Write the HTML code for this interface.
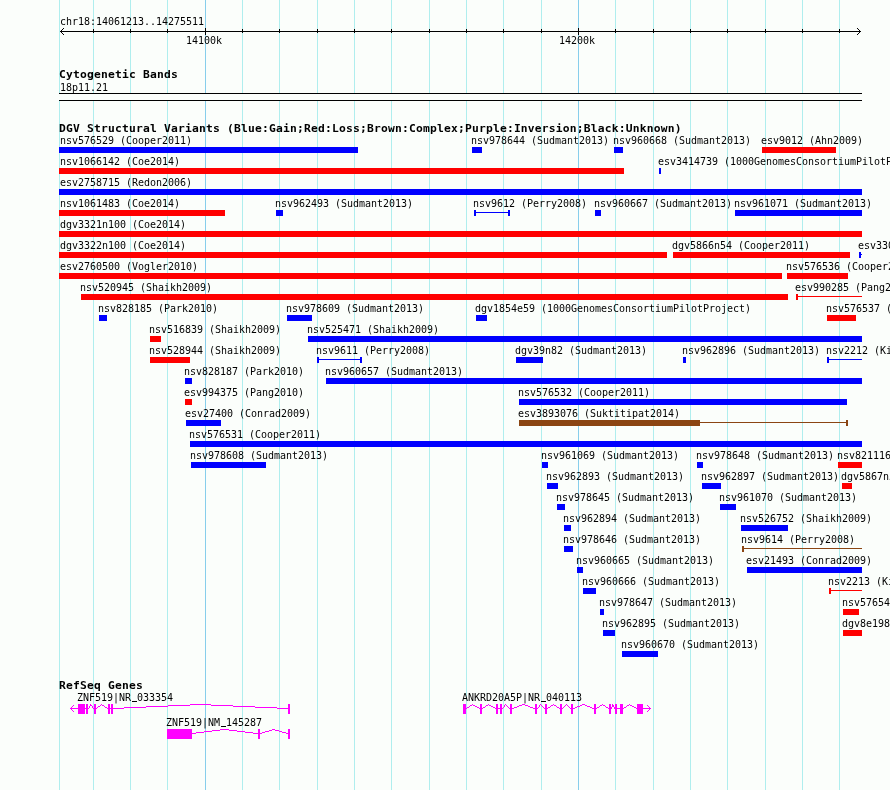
<!DOCTYPE html>
<html><head><meta charset="utf-8"><style>
html,body{margin:0;padding:0;}
body{width:890px;height:790px;overflow:hidden;background:#fbfefb;position:relative;}
svg{position:absolute;left:0;top:0;}
.t,.b{position:absolute;white-space:pre;color:#000;line-height:13px;}
.u{display:inline-block;width:6px;height:13px;vertical-align:top;color:transparent;background:linear-gradient(#000,#000) 1px 9px/5px 1px no-repeat;}
#tx{position:absolute;left:0;top:0;width:890px;height:790px;will-change:transform;}
.t{font:10px "DejaVu Sans Mono","Liberation Mono",monospace;letter-spacing:-0.0205px;}
.b{font:bold 11.3px "DejaVu Sans Mono","Liberation Mono",monospace;letter-spacing:0.1968px;}
</style></head><body>
<svg width="890" height="790" viewBox="0 0 890 790">
<g shape-rendering="crispEdges">
<rect x="59" y="0" width="1" height="790" fill="#afeeee"/>
<rect x="93" y="0" width="1" height="790" fill="#afeeee"/>
<rect x="130" y="0" width="1" height="790" fill="#afeeee"/>
<rect x="167" y="0" width="1" height="790" fill="#afeeee"/>
<rect x="205" y="0" width="1" height="790" fill="#87ceeb"/>
<rect x="242" y="0" width="1" height="790" fill="#afeeee"/>
<rect x="279" y="0" width="1" height="790" fill="#afeeee"/>
<rect x="317" y="0" width="1" height="790" fill="#afeeee"/>
<rect x="354" y="0" width="1" height="790" fill="#afeeee"/>
<rect x="391" y="0" width="1" height="790" fill="#afeeee"/>
<rect x="429" y="0" width="1" height="790" fill="#afeeee"/>
<rect x="466" y="0" width="1" height="790" fill="#afeeee"/>
<rect x="503" y="0" width="1" height="790" fill="#afeeee"/>
<rect x="541" y="0" width="1" height="790" fill="#afeeee"/>
<rect x="578" y="0" width="1" height="790" fill="#87ceeb"/>
<rect x="615" y="0" width="1" height="790" fill="#afeeee"/>
<rect x="653" y="0" width="1" height="790" fill="#afeeee"/>
<rect x="690" y="0" width="1" height="790" fill="#afeeee"/>
<rect x="727" y="0" width="1" height="790" fill="#afeeee"/>
<rect x="765" y="0" width="1" height="790" fill="#afeeee"/>
<rect x="802" y="0" width="1" height="790" fill="#afeeee"/>
<rect x="839" y="0" width="1" height="790" fill="#afeeee"/>
<rect x="60" y="31" width="801" height="1" fill="#000"/>
<rect x="93" y="29" width="1" height="4" fill="#000"/>
<rect x="130" y="29" width="1" height="4" fill="#000"/>
<rect x="167" y="29" width="1" height="4" fill="#000"/>
<rect x="205" y="28" width="1" height="7" fill="#000"/>
<rect x="242" y="29" width="1" height="4" fill="#000"/>
<rect x="279" y="29" width="1" height="4" fill="#000"/>
<rect x="317" y="29" width="1" height="4" fill="#000"/>
<rect x="354" y="29" width="1" height="4" fill="#000"/>
<rect x="391" y="29" width="1" height="4" fill="#000"/>
<rect x="429" y="29" width="1" height="4" fill="#000"/>
<rect x="466" y="29" width="1" height="4" fill="#000"/>
<rect x="503" y="29" width="1" height="4" fill="#000"/>
<rect x="541" y="29" width="1" height="4" fill="#000"/>
<rect x="578" y="28" width="1" height="7" fill="#000"/>
<rect x="615" y="29" width="1" height="4" fill="#000"/>
<rect x="653" y="29" width="1" height="4" fill="#000"/>
<rect x="690" y="29" width="1" height="4" fill="#000"/>
<rect x="727" y="29" width="1" height="4" fill="#000"/>
<rect x="765" y="29" width="1" height="4" fill="#000"/>
<rect x="802" y="29" width="1" height="4" fill="#000"/>
<rect x="839" y="29" width="1" height="4" fill="#000"/>
<rect x="61" y="30" width="1" height="1" fill="#000"/>
<rect x="61" y="32" width="1" height="1" fill="#000"/>
<rect x="859" y="30" width="1" height="1" fill="#000"/>
<rect x="859" y="32" width="1" height="1" fill="#000"/>
<rect x="62" y="29" width="1" height="1" fill="#000"/>
<rect x="62" y="33" width="1" height="1" fill="#000"/>
<rect x="858" y="29" width="1" height="1" fill="#000"/>
<rect x="858" y="33" width="1" height="1" fill="#000"/>
<rect x="63" y="28" width="1" height="1" fill="#000"/>
<rect x="63" y="34" width="1" height="1" fill="#000"/>
<rect x="857" y="28" width="1" height="1" fill="#000"/>
<rect x="857" y="34" width="1" height="1" fill="#000"/>
<rect x="59" y="93" width="803" height="8" fill="#fbfefb"/>
<rect x="59" y="93" width="803" height="1" fill="#000"/>
<rect x="59" y="100" width="803" height="1" fill="#000"/>
<rect x="59" y="147" width="299" height="6" fill="#0000ff"/>
<rect x="472" y="147" width="10" height="6" fill="#0000ff"/>
<rect x="614" y="147" width="9" height="6" fill="#0000ff"/>
<rect x="762" y="147" width="74" height="6" fill="#ff0000"/>
<rect x="59" y="168" width="565" height="6" fill="#ff0000"/>
<rect x="659" y="168" width="2" height="6" fill="#0000ff"/>
<rect x="59" y="189" width="803" height="6" fill="#0000ff"/>
<rect x="59" y="210" width="166" height="6" fill="#ff0000"/>
<rect x="276" y="210" width="7" height="6" fill="#0000ff"/>
<rect x="474" y="210" width="2" height="6" fill="#0000ff"/>
<rect x="474" y="212" width="36" height="1" fill="#0000ff"/>
<rect x="508" y="210" width="2" height="6" fill="#0000ff"/>
<rect x="595" y="210" width="6" height="6" fill="#0000ff"/>
<rect x="735" y="210" width="127" height="6" fill="#0000ff"/>
<rect x="59" y="231" width="803" height="6" fill="#ff0000"/>
<rect x="59" y="252" width="608" height="6" fill="#ff0000"/>
<rect x="673" y="252" width="177" height="6" fill="#ff0000"/>
<rect x="859" y="252" width="2" height="6" fill="#0000ff"/>
<rect x="859" y="254" width="3" height="1" fill="#0000ff"/>
<rect x="59" y="273" width="723" height="6" fill="#ff0000"/>
<rect x="787" y="273" width="61" height="6" fill="#ff0000"/>
<rect x="81" y="294" width="707" height="6" fill="#ff0000"/>
<rect x="796" y="294" width="2" height="6" fill="#ff0000"/>
<rect x="796" y="296" width="66" height="1" fill="#ff0000"/>
<rect x="99" y="315" width="8" height="6" fill="#0000ff"/>
<rect x="287" y="315" width="25" height="6" fill="#0000ff"/>
<rect x="476" y="315" width="11" height="6" fill="#0000ff"/>
<rect x="827" y="315" width="29" height="6" fill="#ff0000"/>
<rect x="150" y="336" width="11" height="6" fill="#ff0000"/>
<rect x="308" y="336" width="554" height="6" fill="#0000ff"/>
<rect x="150" y="357" width="40" height="6" fill="#ff0000"/>
<rect x="317" y="357" width="2" height="6" fill="#0000ff"/>
<rect x="317" y="359" width="45" height="1" fill="#0000ff"/>
<rect x="360" y="357" width="2" height="6" fill="#0000ff"/>
<rect x="516" y="357" width="27" height="6" fill="#0000ff"/>
<rect x="683" y="357" width="3" height="6" fill="#0000ff"/>
<rect x="827" y="357" width="2" height="6" fill="#0000ff"/>
<rect x="827" y="359" width="35" height="1" fill="#0000ff"/>
<rect x="185" y="378" width="7" height="6" fill="#0000ff"/>
<rect x="326" y="378" width="536" height="6" fill="#0000ff"/>
<rect x="185" y="399" width="7" height="6" fill="#ff0000"/>
<rect x="519" y="399" width="328" height="6" fill="#0000ff"/>
<rect x="186" y="420" width="35" height="6" fill="#0000ff"/>
<rect x="519" y="420" width="181" height="6" fill="#8b4513"/>
<rect x="699" y="422" width="149" height="1" fill="#8b4513"/>
<rect x="846" y="420" width="2" height="6" fill="#8b4513"/>
<rect x="190" y="441" width="672" height="6" fill="#0000ff"/>
<rect x="191" y="462" width="75" height="6" fill="#0000ff"/>
<rect x="542" y="462" width="6" height="6" fill="#0000ff"/>
<rect x="697" y="462" width="6" height="6" fill="#0000ff"/>
<rect x="838" y="462" width="24" height="6" fill="#ff0000"/>
<rect x="547" y="483" width="11" height="6" fill="#0000ff"/>
<rect x="702" y="483" width="19" height="6" fill="#0000ff"/>
<rect x="842" y="483" width="10" height="6" fill="#ff0000"/>
<rect x="557" y="504" width="8" height="6" fill="#0000ff"/>
<rect x="720" y="504" width="16" height="6" fill="#0000ff"/>
<rect x="564" y="525" width="7" height="6" fill="#0000ff"/>
<rect x="741" y="525" width="47" height="6" fill="#0000ff"/>
<rect x="564" y="546" width="9" height="6" fill="#0000ff"/>
<rect x="742" y="546" width="2" height="6" fill="#8b4513"/>
<rect x="742" y="548" width="120" height="1" fill="#8b4513"/>
<rect x="577" y="567" width="6" height="6" fill="#0000ff"/>
<rect x="747" y="567" width="115" height="6" fill="#0000ff"/>
<rect x="583" y="588" width="13" height="6" fill="#0000ff"/>
<rect x="829" y="588" width="2" height="6" fill="#ff0000"/>
<rect x="829" y="590" width="33" height="1" fill="#ff0000"/>
<rect x="600" y="609" width="4" height="6" fill="#0000ff"/>
<rect x="843" y="609" width="16" height="6" fill="#ff0000"/>
<rect x="603" y="630" width="12" height="6" fill="#0000ff"/>
<rect x="843" y="630" width="19" height="6" fill="#ff0000"/>
<rect x="622" y="651" width="36" height="6" fill="#0000ff"/>
<rect x="78" y="704" width="7" height="10" fill="#ff00ff"/>
<rect x="86" y="704" width="2" height="10" fill="#ff00ff"/>
<rect x="94" y="704" width="2" height="10" fill="#ff00ff"/>
<rect x="108" y="704" width="2" height="10" fill="#ff00ff"/>
<rect x="111" y="704" width="2" height="10" fill="#ff00ff"/>
<rect x="288" y="704" width="2" height="10" fill="#ff00ff"/>
<rect x="85" y="708" width="1" height="1" fill="#ff00ff"/>
<rect x="88" y="708" width="1" height="1" fill="#ff00ff"/>
<rect x="93" y="708" width="1" height="1" fill="#ff00ff"/>
<rect x="90" y="705" width="2" height="1" fill="#ff00ff"/>
<rect x="89" y="707" width="1" height="1" fill="#ff00ff"/>
<rect x="92" y="707" width="1" height="1" fill="#ff00ff"/>
<rect x="90" y="704" width="1" height="1" fill="#ff00ff"/>
<rect x="89" y="706" width="1" height="1" fill="#ff00ff"/>
<rect x="92" y="706" width="1" height="1" fill="#ff00ff"/>
<rect x="100" y="705" width="1" height="1" fill="#ff00ff"/>
<rect x="102" y="705" width="2" height="1" fill="#ff00ff"/>
<rect x="98" y="706" width="2" height="1" fill="#ff00ff"/>
<rect x="104" y="706" width="1" height="1" fill="#ff00ff"/>
<rect x="96" y="708" width="1" height="1" fill="#ff00ff"/>
<rect x="107" y="708" width="1" height="1" fill="#ff00ff"/>
<rect x="101" y="704" width="1" height="1" fill="#ff00ff"/>
<rect x="97" y="707" width="1" height="1" fill="#ff00ff"/>
<rect x="105" y="707" width="2" height="1" fill="#ff00ff"/>
<rect x="110" y="708" width="1" height="1" fill="#ff00ff"/>
<rect x="113" y="708" width="11" height="1" fill="#ff00ff"/>
<rect x="277" y="708" width="11" height="1" fill="#ff00ff"/>
<rect x="124" y="707" width="22" height="1" fill="#ff00ff"/>
<rect x="255" y="707" width="22" height="1" fill="#ff00ff"/>
<rect x="168" y="705" width="22" height="1" fill="#ff00ff"/>
<rect x="211" y="705" width="22" height="1" fill="#ff00ff"/>
<rect x="190" y="704" width="21" height="1" fill="#ff00ff"/>
<rect x="146" y="706" width="22" height="1" fill="#ff00ff"/>
<rect x="233" y="706" width="22" height="1" fill="#ff00ff"/>
<rect x="70" y="708" width="8" height="1" fill="#ff00ff"/>
<rect x="71" y="707" width="1" height="1" fill="#ff00ff"/>
<rect x="71" y="709" width="1" height="1" fill="#ff00ff"/>
<rect x="72" y="706" width="1" height="1" fill="#ff00ff"/>
<rect x="72" y="710" width="1" height="1" fill="#ff00ff"/>
<rect x="73" y="705" width="1" height="1" fill="#ff00ff"/>
<rect x="73" y="711" width="1" height="1" fill="#ff00ff"/>
<rect x="167" y="729" width="25" height="10" fill="#ff00ff"/>
<rect x="258" y="729" width="2" height="10" fill="#ff00ff"/>
<rect x="288" y="729" width="2" height="10" fill="#ff00ff"/>
<rect x="212" y="730" width="8" height="1" fill="#ff00ff"/>
<rect x="229" y="730" width="8" height="1" fill="#ff00ff"/>
<rect x="204" y="731" width="8" height="1" fill="#ff00ff"/>
<rect x="237" y="731" width="8" height="1" fill="#ff00ff"/>
<rect x="196" y="732" width="8" height="1" fill="#ff00ff"/>
<rect x="245" y="732" width="8" height="1" fill="#ff00ff"/>
<rect x="220" y="729" width="9" height="1" fill="#ff00ff"/>
<rect x="192" y="733" width="4" height="1" fill="#ff00ff"/>
<rect x="253" y="733" width="5" height="1" fill="#ff00ff"/>
<rect x="269" y="730" width="3" height="1" fill="#ff00ff"/>
<rect x="275" y="730" width="4" height="1" fill="#ff00ff"/>
<rect x="260" y="733" width="2" height="1" fill="#ff00ff"/>
<rect x="286" y="733" width="2" height="1" fill="#ff00ff"/>
<rect x="262" y="732" width="3" height="1" fill="#ff00ff"/>
<rect x="282" y="732" width="4" height="1" fill="#ff00ff"/>
<rect x="265" y="731" width="4" height="1" fill="#ff00ff"/>
<rect x="279" y="731" width="3" height="1" fill="#ff00ff"/>
<rect x="272" y="729" width="3" height="1" fill="#ff00ff"/>
<rect x="463" y="704" width="3" height="10" fill="#ff00ff"/>
<rect x="480" y="704" width="2" height="10" fill="#ff00ff"/>
<rect x="496" y="704" width="2" height="10" fill="#ff00ff"/>
<rect x="500" y="704" width="2" height="10" fill="#ff00ff"/>
<rect x="510" y="704" width="2" height="10" fill="#ff00ff"/>
<rect x="535" y="704" width="2" height="10" fill="#ff00ff"/>
<rect x="545" y="704" width="2" height="10" fill="#ff00ff"/>
<rect x="560" y="704" width="2" height="10" fill="#ff00ff"/>
<rect x="571" y="704" width="2" height="10" fill="#ff00ff"/>
<rect x="594" y="704" width="2" height="10" fill="#ff00ff"/>
<rect x="609" y="704" width="2" height="10" fill="#ff00ff"/>
<rect x="615" y="704" width="2" height="10" fill="#ff00ff"/>
<rect x="620" y="704" width="3" height="10" fill="#ff00ff"/>
<rect x="637" y="704" width="6" height="10" fill="#ff00ff"/>
<rect x="467" y="707" width="2" height="1" fill="#ff00ff"/>
<rect x="477" y="707" width="2" height="1" fill="#ff00ff"/>
<rect x="466" y="708" width="1" height="1" fill="#ff00ff"/>
<rect x="479" y="708" width="1" height="1" fill="#ff00ff"/>
<rect x="470" y="705" width="2" height="1" fill="#ff00ff"/>
<rect x="473" y="705" width="2" height="1" fill="#ff00ff"/>
<rect x="472" y="704" width="1" height="1" fill="#ff00ff"/>
<rect x="469" y="706" width="1" height="1" fill="#ff00ff"/>
<rect x="475" y="706" width="2" height="1" fill="#ff00ff"/>
<rect x="482" y="708" width="1" height="1" fill="#ff00ff"/>
<rect x="495" y="708" width="1" height="1" fill="#ff00ff"/>
<rect x="486" y="705" width="2" height="1" fill="#ff00ff"/>
<rect x="489" y="705" width="2" height="1" fill="#ff00ff"/>
<rect x="488" y="704" width="1" height="1" fill="#ff00ff"/>
<rect x="483" y="707" width="2" height="1" fill="#ff00ff"/>
<rect x="493" y="707" width="2" height="1" fill="#ff00ff"/>
<rect x="485" y="706" width="1" height="1" fill="#ff00ff"/>
<rect x="491" y="706" width="2" height="1" fill="#ff00ff"/>
<rect x="498" y="708" width="2" height="1" fill="#ff00ff"/>
<rect x="504" y="705" width="1" height="1" fill="#ff00ff"/>
<rect x="506" y="705" width="1" height="1" fill="#ff00ff"/>
<rect x="502" y="708" width="1" height="1" fill="#ff00ff"/>
<rect x="509" y="708" width="1" height="1" fill="#ff00ff"/>
<rect x="505" y="704" width="1" height="1" fill="#ff00ff"/>
<rect x="504" y="706" width="1" height="1" fill="#ff00ff"/>
<rect x="507" y="706" width="1" height="1" fill="#ff00ff"/>
<rect x="503" y="707" width="1" height="1" fill="#ff00ff"/>
<rect x="508" y="707" width="1" height="1" fill="#ff00ff"/>
<rect x="519" y="705" width="3" height="1" fill="#ff00ff"/>
<rect x="525" y="705" width="3" height="1" fill="#ff00ff"/>
<rect x="512" y="708" width="2" height="1" fill="#ff00ff"/>
<rect x="533" y="708" width="2" height="1" fill="#ff00ff"/>
<rect x="517" y="706" width="2" height="1" fill="#ff00ff"/>
<rect x="528" y="706" width="2" height="1" fill="#ff00ff"/>
<rect x="514" y="707" width="3" height="1" fill="#ff00ff"/>
<rect x="530" y="707" width="3" height="1" fill="#ff00ff"/>
<rect x="522" y="704" width="3" height="1" fill="#ff00ff"/>
<rect x="537" y="708" width="1" height="1" fill="#ff00ff"/>
<rect x="544" y="708" width="1" height="1" fill="#ff00ff"/>
<rect x="539" y="705" width="1" height="1" fill="#ff00ff"/>
<rect x="541" y="705" width="1" height="1" fill="#ff00ff"/>
<rect x="539" y="706" width="1" height="1" fill="#ff00ff"/>
<rect x="542" y="706" width="1" height="1" fill="#ff00ff"/>
<rect x="538" y="707" width="1" height="1" fill="#ff00ff"/>
<rect x="543" y="707" width="1" height="1" fill="#ff00ff"/>
<rect x="540" y="704" width="1" height="1" fill="#ff00ff"/>
<rect x="551" y="705" width="2" height="1" fill="#ff00ff"/>
<rect x="554" y="705" width="2" height="1" fill="#ff00ff"/>
<rect x="547" y="708" width="1" height="1" fill="#ff00ff"/>
<rect x="559" y="708" width="1" height="1" fill="#ff00ff"/>
<rect x="548" y="707" width="2" height="1" fill="#ff00ff"/>
<rect x="557" y="707" width="2" height="1" fill="#ff00ff"/>
<rect x="550" y="706" width="1" height="1" fill="#ff00ff"/>
<rect x="556" y="706" width="1" height="1" fill="#ff00ff"/>
<rect x="553" y="704" width="1" height="1" fill="#ff00ff"/>
<rect x="565" y="705" width="1" height="1" fill="#ff00ff"/>
<rect x="567" y="705" width="1" height="1" fill="#ff00ff"/>
<rect x="562" y="708" width="1" height="1" fill="#ff00ff"/>
<rect x="570" y="708" width="1" height="1" fill="#ff00ff"/>
<rect x="563" y="707" width="1" height="1" fill="#ff00ff"/>
<rect x="569" y="707" width="1" height="1" fill="#ff00ff"/>
<rect x="566" y="704" width="1" height="1" fill="#ff00ff"/>
<rect x="564" y="706" width="1" height="1" fill="#ff00ff"/>
<rect x="568" y="706" width="1" height="1" fill="#ff00ff"/>
<rect x="582" y="704" width="3" height="1" fill="#ff00ff"/>
<rect x="577" y="706" width="3" height="1" fill="#ff00ff"/>
<rect x="587" y="706" width="3" height="1" fill="#ff00ff"/>
<rect x="580" y="705" width="2" height="1" fill="#ff00ff"/>
<rect x="585" y="705" width="2" height="1" fill="#ff00ff"/>
<rect x="573" y="708" width="2" height="1" fill="#ff00ff"/>
<rect x="592" y="708" width="2" height="1" fill="#ff00ff"/>
<rect x="575" y="707" width="2" height="1" fill="#ff00ff"/>
<rect x="590" y="707" width="2" height="1" fill="#ff00ff"/>
<rect x="600" y="705" width="2" height="1" fill="#ff00ff"/>
<rect x="603" y="705" width="2" height="1" fill="#ff00ff"/>
<rect x="596" y="708" width="1" height="1" fill="#ff00ff"/>
<rect x="608" y="708" width="1" height="1" fill="#ff00ff"/>
<rect x="602" y="704" width="1" height="1" fill="#ff00ff"/>
<rect x="597" y="707" width="2" height="1" fill="#ff00ff"/>
<rect x="606" y="707" width="2" height="1" fill="#ff00ff"/>
<rect x="599" y="706" width="1" height="1" fill="#ff00ff"/>
<rect x="605" y="706" width="1" height="1" fill="#ff00ff"/>
<rect x="612" y="705" width="2" height="1" fill="#ff00ff"/>
<rect x="611" y="708" width="1" height="1" fill="#ff00ff"/>
<rect x="614" y="708" width="1" height="1" fill="#ff00ff"/>
<rect x="611" y="707" width="1" height="1" fill="#ff00ff"/>
<rect x="614" y="707" width="1" height="1" fill="#ff00ff"/>
<rect x="612" y="706" width="2" height="1" fill="#ff00ff"/>
<rect x="612" y="704" width="1" height="1" fill="#ff00ff"/>
<rect x="617" y="708" width="3" height="1" fill="#ff00ff"/>
<rect x="627" y="705" width="2" height="1" fill="#ff00ff"/>
<rect x="630" y="705" width="2" height="1" fill="#ff00ff"/>
<rect x="624" y="707" width="2" height="1" fill="#ff00ff"/>
<rect x="634" y="707" width="2" height="1" fill="#ff00ff"/>
<rect x="629" y="704" width="1" height="1" fill="#ff00ff"/>
<rect x="623" y="708" width="1" height="1" fill="#ff00ff"/>
<rect x="636" y="708" width="1" height="1" fill="#ff00ff"/>
<rect x="626" y="706" width="1" height="1" fill="#ff00ff"/>
<rect x="632" y="706" width="2" height="1" fill="#ff00ff"/>
<rect x="643" y="708" width="8" height="1" fill="#ff00ff"/>
<rect x="649" y="707" width="1" height="1" fill="#ff00ff"/>
<rect x="649" y="709" width="1" height="1" fill="#ff00ff"/>
<rect x="648" y="706" width="1" height="1" fill="#ff00ff"/>
<rect x="648" y="710" width="1" height="1" fill="#ff00ff"/>
<rect x="647" y="705" width="1" height="1" fill="#ff00ff"/>
<rect x="647" y="711" width="1" height="1" fill="#ff00ff"/>
</g>
<g shape-rendering="crispEdges">

</g>
</svg>
<div id="tx">
<div class="t" style="left:60px;top:135px">nsv576529 (Cooper2011)</div>
<div class="t" style="left:471px;top:135px">nsv978644 (Sudmant2013)</div>
<div class="t" style="left:613px;top:135px">nsv960668 (Sudmant2013)</div>
<div class="t" style="left:761px;top:135px">esv9012 (Ahn2009)</div>
<div class="t" style="left:60px;top:156px">nsv1066142 (Coe2014)</div>
<div class="t" style="left:658px;top:156px">esv3414739 (1000GenomesConsortiumPilotProject)</div>
<div class="t" style="left:60px;top:177px">esv2758715 (Redon2006)</div>
<div class="t" style="left:60px;top:198px">nsv1061483 (Coe2014)</div>
<div class="t" style="left:275px;top:198px">nsv962493 (Sudmant2013)</div>
<div class="t" style="left:473px;top:198px">nsv9612 (Perry2008)</div>
<div class="t" style="left:594px;top:198px">nsv960667 (Sudmant2013)</div>
<div class="t" style="left:734px;top:198px">nsv961071 (Sudmant2013)</div>
<div class="t" style="left:60px;top:219px">dgv3321n100 (Coe2014)</div>
<div class="t" style="left:60px;top:240px">dgv3322n100 (Coe2014)</div>
<div class="t" style="left:672px;top:240px">dgv5866n54 (Cooper2011)</div>
<div class="t" style="left:858px;top:240px">esv3300778 (Suktitipat2014)</div>
<div class="t" style="left:60px;top:261px">esv2760500 (Vogler2010)</div>
<div class="t" style="left:786px;top:261px">nsv576536 (Cooper2011)</div>
<div class="t" style="left:80px;top:282px">nsv520945 (Shaikh2009)</div>
<div class="t" style="left:795px;top:282px">esv990285 (Pang2010)</div>
<div class="t" style="left:98px;top:303px">nsv828185 (Park2010)</div>
<div class="t" style="left:286px;top:303px">nsv978609 (Sudmant2013)</div>
<div class="t" style="left:475px;top:303px">dgv1854e59 (1000GenomesConsortiumPilotProject)</div>
<div class="t" style="left:826px;top:303px">nsv576537 (Cooper2011)</div>
<div class="t" style="left:149px;top:324px">nsv516839 (Shaikh2009)</div>
<div class="t" style="left:307px;top:324px">nsv525471 (Shaikh2009)</div>
<div class="t" style="left:149px;top:345px">nsv528944 (Shaikh2009)</div>
<div class="t" style="left:316px;top:345px">nsv9611 (Perry2008)</div>
<div class="t" style="left:515px;top:345px">dgv39n82 (Sudmant2013)</div>
<div class="t" style="left:682px;top:345px">nsv962896 (Sudmant2013)</div>
<div class="t" style="left:826px;top:345px">nsv2212 (Kidd2008)</div>
<div class="t" style="left:184px;top:366px">nsv828187 (Park2010)</div>
<div class="t" style="left:325px;top:366px">nsv960657 (Sudmant2013)</div>
<div class="t" style="left:184px;top:387px">esv994375 (Pang2010)</div>
<div class="t" style="left:518px;top:387px">nsv576532 (Cooper2011)</div>
<div class="t" style="left:185px;top:408px">esv27400 (Conrad2009)</div>
<div class="t" style="left:518px;top:408px">esv3893076 (Suktitipat2014)</div>
<div class="t" style="left:189px;top:429px">nsv576531 (Cooper2011)</div>
<div class="t" style="left:190px;top:450px">nsv978608 (Sudmant2013)</div>
<div class="t" style="left:541px;top:450px">nsv961069 (Sudmant2013)</div>
<div class="t" style="left:696px;top:450px">nsv978648 (Sudmant2013)</div>
<div class="t" style="left:837px;top:450px">nsv821116 (Cooper2011)</div>
<div class="t" style="left:546px;top:471px">nsv962893 (Sudmant2013)</div>
<div class="t" style="left:701px;top:471px">nsv962897 (Sudmant2013)</div>
<div class="t" style="left:841px;top:471px">dgv5867n54 (Cooper2011)</div>
<div class="t" style="left:556px;top:492px">nsv978645 (Sudmant2013)</div>
<div class="t" style="left:719px;top:492px">nsv961070 (Sudmant2013)</div>
<div class="t" style="left:563px;top:513px">nsv962894 (Sudmant2013)</div>
<div class="t" style="left:740px;top:513px">nsv526752 (Shaikh2009)</div>
<div class="t" style="left:563px;top:534px">nsv978646 (Sudmant2013)</div>
<div class="t" style="left:741px;top:534px">nsv9614 (Perry2008)</div>
<div class="t" style="left:576px;top:555px">nsv960665 (Sudmant2013)</div>
<div class="t" style="left:746px;top:555px">esv21493 (Conrad2009)</div>
<div class="t" style="left:582px;top:576px">nsv960666 (Sudmant2013)</div>
<div class="t" style="left:828px;top:576px">nsv2213 (Kidd2008)</div>
<div class="t" style="left:599px;top:597px">nsv978647 (Sudmant2013)</div>
<div class="t" style="left:842px;top:597px">nsv576541 (Cooper2011)</div>
<div class="t" style="left:602px;top:618px">nsv962895 (Sudmant2013)</div>
<div class="t" style="left:842px;top:618px">dgv8e198 (1000GenomesConsortiumPilotProject)</div>
<div class="t" style="left:621px;top:639px">nsv960670 (Sudmant2013)</div>
<div class="b" style="left:59px;top:68px">Cytogenetic Bands</div>
<div class="t" style="left:60px;top:82px">18p11.21</div>
<div class="b" style="left:59px;top:122px">DGV Structural Variants (Blue:Gain;Red:Loss;Brown:Complex;Purple:Inversion;Black:Unknown)</div>
<div class="t" style="left:60px;top:16px">chr18:14061213..14275511</div>
<div class="t" style="left:186px;top:35px">14100k</div>
<div class="t" style="left:559px;top:35px">14200k</div>
<div class="b" style="left:59px;top:679px">RefSeq Genes</div>
<div class="t" style="left:77px;top:692px">ZNF519|NR<span class="u">_</span>033354</div>
<div class="t" style="left:166px;top:717px">ZNF519|NM<span class="u">_</span>145287</div>
<div class="t" style="left:462px;top:692px">ANKRD20A5P|NR<span class="u">_</span>040113</div>
</div>
</body></html>
